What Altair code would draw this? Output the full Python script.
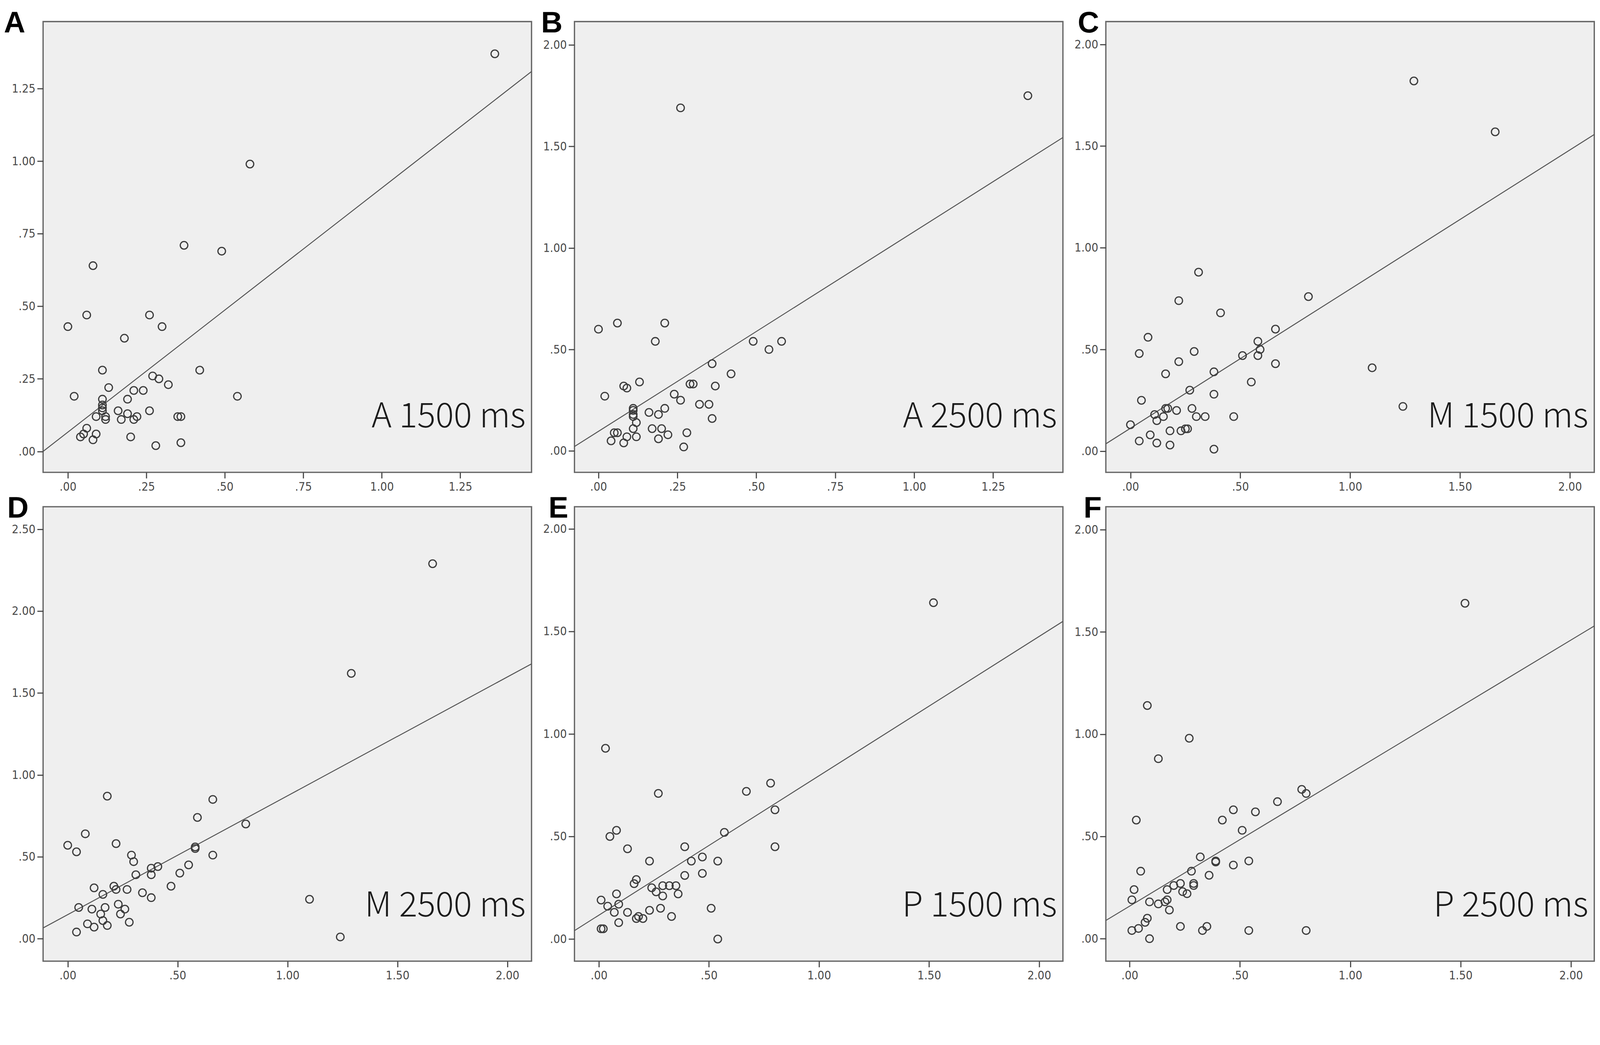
import altair as alt
import pandas as pd

# ---------------- data ----------------
A_x = [1.36, 0.58, 0.37, 0.49, 0.08, 0.06, 0.26, 0.00, 0.30, 0.18, 0.11, 0.42, 0.27, 0.29, 0.32,
       0.13, 0.21, 0.24, 0.02, 0.54, 0.11, 0.19, 0.11, 0.11, 0.11, 0.16, 0.26, 0.19, 0.09, 0.12,
       0.12, 0.17, 0.21, 0.22, 0.35, 0.36, 0.06, 0.05, 0.09, 0.04, 0.20, 0.08, 0.28, 0.36]
A_y = [1.37, 0.99, 0.71, 0.69, 0.64, 0.47, 0.47, 0.43, 0.43, 0.39, 0.28, 0.28, 0.26, 0.25, 0.23,
       0.22, 0.21, 0.21, 0.19, 0.19, 0.18, 0.18, 0.16, 0.15, 0.14, 0.14, 0.14, 0.13, 0.12, 0.12,
       0.11, 0.11, 0.11, 0.12, 0.12, 0.12, 0.08, 0.06, 0.06, 0.05, 0.05, 0.04, 0.02, 0.03]

B_x = [1.36, 0.26, 0.00, 0.06, 0.21, 0.18, 0.49, 0.58, 0.54, 0.36, 0.42, 0.08, 0.09, 0.13, 0.29,
       0.30, 0.37, 0.02, 0.24, 0.26, 0.32, 0.35, 0.11, 0.11, 0.11, 0.11, 0.16, 0.19, 0.21, 0.12,
       0.36, 0.11, 0.17, 0.20, 0.05, 0.06, 0.28, 0.09, 0.12, 0.22, 0.19, 0.04, 0.08, 0.27]
B_y = [1.75, 1.69, 0.60, 0.63, 0.63, 0.54, 0.54, 0.54, 0.50, 0.43, 0.38, 0.32, 0.31, 0.34, 0.33,
       0.33, 0.32, 0.27, 0.28, 0.25, 0.23, 0.23, 0.21, 0.20, 0.18, 0.17, 0.19, 0.18, 0.21, 0.14,
       0.16, 0.11, 0.11, 0.11, 0.09, 0.09, 0.09, 0.07, 0.07, 0.08, 0.06, 0.05, 0.04, 0.02]

C_x = [1.29, 1.66, 0.31, 0.81, 0.22, 0.41, 0.66, 0.08, 0.58, 0.59, 0.04, 0.29, 0.51, 0.58, 0.22,
       0.66, 1.10, 0.16, 0.38, 0.55, 0.27, 0.38, 0.05, 1.24, 0.17, 0.16, 0.21, 0.28, 0.11, 0.15,
       0.12, 0.30, 0.34, 0.47, 0.00, 0.18, 0.23, 0.25, 0.26, 0.09, 0.04, 0.12, 0.18, 0.38]
C_y = [1.82, 1.57, 0.88, 0.76, 0.74, 0.68, 0.60, 0.56, 0.54, 0.50, 0.48, 0.49, 0.47, 0.47, 0.44,
       0.43, 0.41, 0.38, 0.39, 0.34, 0.30, 0.28, 0.25, 0.22, 0.21, 0.21, 0.20, 0.21, 0.18, 0.17,
       0.15, 0.17, 0.17, 0.17, 0.13, 0.10, 0.10, 0.11, 0.11, 0.08, 0.05, 0.04, 0.03, 0.01]

D_x = [1.66, 1.29, 0.18, 0.66, 0.59, 0.81, 0.08, 0.22, 0.00, 0.58, 0.58, 0.04, 0.29, 0.66, 0.30,
       0.55, 0.41, 0.38, 0.51, 0.31, 0.38, 0.47, 0.21, 0.12, 0.22, 0.27, 0.16, 0.34, 0.38, 1.10,
       0.23, 0.05, 0.17, 0.11, 0.26, 0.15, 0.24, 0.16, 0.28, 0.09, 0.12, 0.18, 0.04, 1.24]
D_y = [2.29, 1.62, 0.87, 0.85, 0.74, 0.70, 0.64, 0.58, 0.57, 0.56, 0.55, 0.53, 0.51, 0.51, 0.47,
       0.45, 0.44, 0.43, 0.40, 0.39, 0.39, 0.32, 0.32, 0.31, 0.30, 0.30, 0.27, 0.28, 0.25, 0.24,
       0.21, 0.19, 0.19, 0.18, 0.18, 0.15, 0.15, 0.11, 0.10, 0.09, 0.07, 0.08, 0.04, 0.01]

E_x = [1.52, 0.03, 0.78, 0.67, 0.27, 0.80, 0.08, 0.57, 0.05, 0.13, 0.39, 0.80, 0.47, 0.23, 0.42,
       0.54, 0.47, 0.39, 0.17, 0.16, 0.24, 0.29, 0.32, 0.35, 0.26, 0.29, 0.36, 0.08, 0.01, 0.09,
       0.04, 0.51, 0.28, 0.23, 0.07, 0.13, 0.17, 0.18, 0.20, 0.33, 0.09, 0.01, 0.02, 0.54]
E_y = [1.64, 0.93, 0.76, 0.72, 0.71, 0.63, 0.53, 0.52, 0.50, 0.44, 0.45, 0.45, 0.40, 0.38, 0.38,
       0.38, 0.32, 0.31, 0.29, 0.27, 0.25, 0.26, 0.26, 0.26, 0.23, 0.21, 0.22, 0.22, 0.19, 0.17,
       0.16, 0.15, 0.15, 0.14, 0.13, 0.13, 0.10, 0.11, 0.10, 0.11, 0.08, 0.05, 0.05, 0.00]

F_x = [1.52, 0.08, 0.27, 0.13, 0.78, 0.80, 0.67, 0.47, 0.57, 0.03, 0.42, 0.51, 0.32, 0.39, 0.39,
       0.54, 0.47, 0.05, 0.28, 0.36, 0.23, 0.29, 0.29, 0.20, 0.02, 0.17, 0.24, 0.26, 0.01, 0.09,
       0.13, 0.17, 0.16, 0.18, 0.08, 0.07, 0.23, 0.35, 0.01, 0.04, 0.33, 0.54, 0.80, 0.09]
F_y = [1.64, 1.14, 0.98, 0.88, 0.73, 0.71, 0.67, 0.63, 0.62, 0.58, 0.58, 0.53, 0.40, 0.38, 0.375,
       0.38, 0.36, 0.33, 0.33, 0.31, 0.27, 0.27, 0.26, 0.26, 0.24, 0.24, 0.23, 0.22, 0.19, 0.18,
       0.17, 0.19, 0.18, 0.14, 0.10, 0.08, 0.06, 0.06, 0.04, 0.05, 0.04, 0.04, 0.04, 0.00]

# fit lines: value at left and right edge of each panel
A_fit_x = [-0.079, 1.477]; A_fit_y = [0.000, 1.309]
B_fit_x = [-0.076, 1.471]; B_fit_y = [0.022, 1.544]
C_fit_x = [-0.112, 2.111]; C_fit_y = [0.036, 1.557]
D_fit_x = [-0.112, 2.110]; D_fit_y = [0.065, 1.678]
E_fit_x = [-0.111, 2.108]; E_fit_y = [0.041, 1.549]
F_fit_x = [-0.108, 2.106]; F_fit_y = [0.089, 1.529]

letters = ["A", "B", "C", "D", "E", "F"]
labels = ["A 1500 ms", "A 2500 ms", "M 1500 ms", "M 2500 ms", "P 1500 ms", "P 2500 ms"]

ticks_q = [0, 0.25, 0.5, 0.75, 1.0, 1.25]
ticks_h = [0, 0.5, 1.0, 1.5, 2.0]
ticks_h25 = [0, 0.5, 1.0, 1.5, 2.0, 2.5]

x_domains = [[-0.079, 1.477], [-0.076, 1.471], [-0.112, 2.111],
             [-0.112, 2.110], [-0.111, 2.108], [-0.108, 2.106]]
y_domains = [[-0.072, 1.481], [-0.105, 2.115], [-0.104, 2.112],
             [-0.138, 2.638], [-0.108, 2.108], [-0.110, 2.112]]
x_ticks = [ticks_q, ticks_q, ticks_h, ticks_h, ticks_h, ticks_h]
y_ticks = [ticks_q, ticks_h, ticks_h, ticks_h25, ticks_h, ticks_h]

xs_all = [A_x, B_x, C_x, D_x, E_x, F_x]
ys_all = [A_y, B_y, C_y, D_y, E_y, F_y]
fx_all = [A_fit_x, B_fit_x, C_fit_x, D_fit_x, E_fit_x, F_fit_x]
fy_all = [A_fit_y, B_fit_y, C_fit_y, D_fit_y, E_fit_y, F_fit_y]
letter_dx = [-106, -90, -76, -97, -70, -60]

# ---------------- styling ----------------
W = 1320
H_rows = [1218, 1218, 1218, 1228, 1228, 1228]
LABEL_EXPR = ("datum.value < 1 && datum.value >= 0 ? substring(format(datum.value, '.2f'), 1)"
              " : format(datum.value, '.2f')")
TICK_FONT = "Liberation Sans Narrow, DejaVu Sans Condensed, Arial, sans-serif"


def axis(vals, pad):
    return alt.Axis(values=vals, labelExpr=LABEL_EXPR, title=None, grid=False, domain=False,
                    ticks=True, tickSize=16, tickWidth=3, tickColor="#444444",
                    labelFont=TICK_FONT, labelFontSize=32, labelColor="#4a4a4a",
                    labelPadding=pad, labelFlush=False, labelOverlap=False)


def panel(i):
    H = H_rows[i]
    xs = alt.Scale(domain=x_domains[i], nice=False, zero=False)
    ys = alt.Scale(domain=y_domains[i], nice=False, zero=False)
    xa = axis(x_ticks[i], 8)
    ya = axis(y_ticks[i], 5)
    pts_df = pd.DataFrame({"x": xs_all[i], "y": ys_all[i]})
    fit_df = pd.DataFrame({"x": fx_all[i], "y": fy_all[i]})
    fit = alt.Chart(fit_df).mark_line(color="#555555", strokeWidth=2.6).encode(
        x=alt.X("x:Q", scale=xs, axis=xa), y=alt.Y("y:Q", scale=ys, axis=ya))
    pts = alt.Chart(pts_df).mark_point(shape="circle", filled=False, size=420, strokeWidth=3.2,
                                       color="#3c3c3c", opacity=1).encode(
        x=alt.X("x:Q", scale=xs, axis=xa), y=alt.Y("y:Q", scale=ys, axis=ya))
    ann = alt.Chart(pd.DataFrame({"t": [labels[i]]})).mark_text(
        align="right", baseline="alphabetic", fontSize=92, font="Noto Sans CJK SC",
        fontWeight=300, color="#1c1c1c").encode(
        x=alt.value(W - 16), y=alt.value(H - 121), text="t:N")
    let = alt.Chart(pd.DataFrame({"t": [letters[i]]})).mark_text(
        align="left", baseline="alphabetic", fontSize=80, font="Liberation Sans",
        fontWeight="bold", color="#000000").encode(
        x=alt.value(letter_dx[i]), y=alt.value(29), text="t:N")
    return alt.layer(fit, pts, ann, let).properties(width=W, height=H)


chart = alt.concat(*[panel(i) for i in range(6)], columns=3,
                   spacing={"row": 93, "column": 116}, bounds="flush").properties(
    padding={"top": -57, "bottom": -64, "left": 0, "right": 0},
    background="white").configure_view(
    fill="#EFEFEF", stroke="#666666", strokeWidth=3.5)

chart.save("out.html", embed_options={"renderer": "svg", "actions": False})
